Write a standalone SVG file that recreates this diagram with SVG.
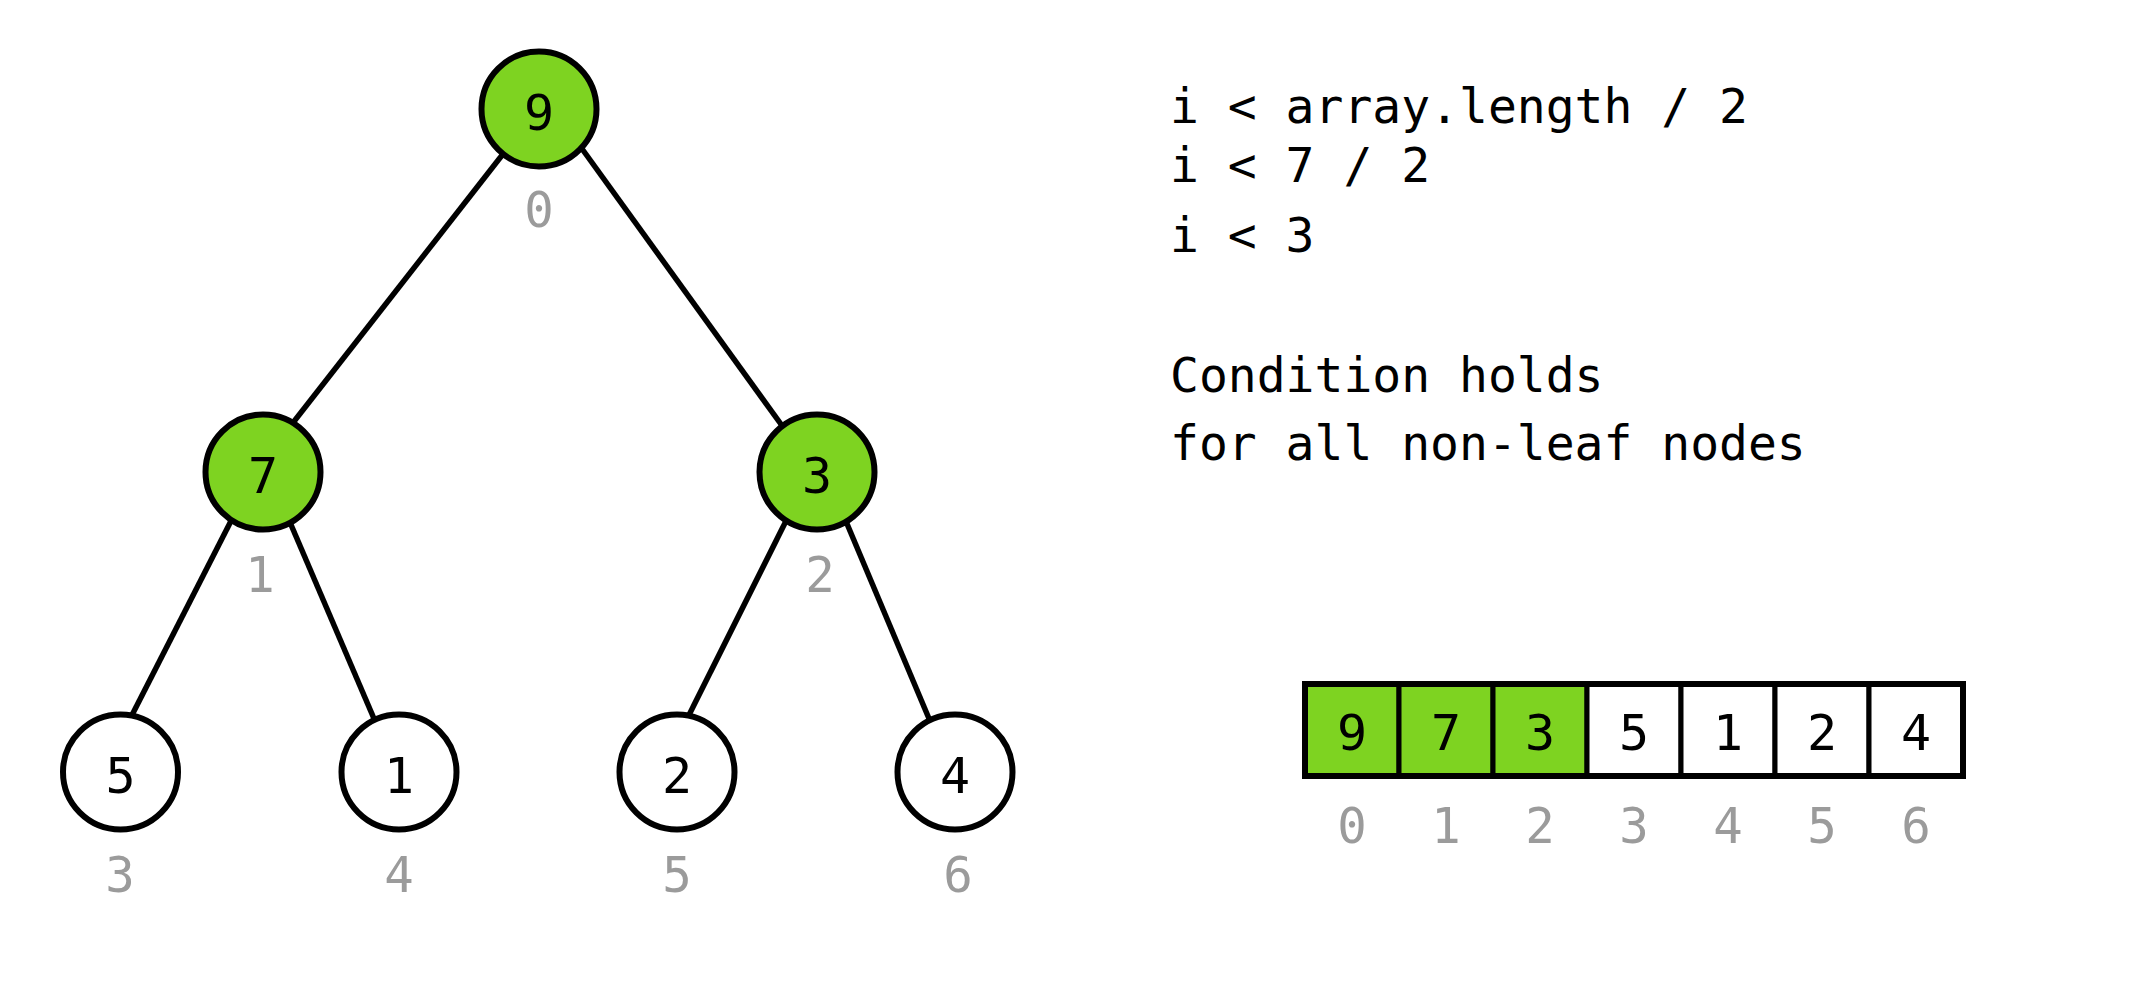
<svg xmlns="http://www.w3.org/2000/svg" width="2138" height="984" viewBox="0 0 2138 984">
<style>
.edge{stroke:#000;stroke-width:5.5;fill:none}
.node{stroke:#000;stroke-width:6}
.g{fill:#7ED321}
.w{fill:#fff}
.val{font-family:"DejaVu Sans Mono","Liberation Mono",monospace;font-size:50px;fill:#000;text-anchor:middle}
.idx{font-family:"DejaVu Sans Mono","Liberation Mono",monospace;font-size:49px;fill:#9B9B9B;text-anchor:middle}
.code{font-family:"DejaVu Sans Mono","Liberation Mono",monospace;font-size:48px;fill:#000}
.cell{stroke:#000;stroke-width:5}
</style>
<rect width="2138" height="984" fill="#fff"/>
<g id="connectors">
<line class="edge" x1="503" y1="154" x2="292" y2="424"/>
<line class="edge" x1="580" y1="146" x2="783" y2="427"/>
<line class="edge" x1="232" y1="519" x2="131" y2="717"/>
<line class="edge" x1="289" y1="520" x2="375" y2="721"/>
<line class="edge" x1="787" y1="519" x2="688" y2="717"/>
<line class="edge" x1="845" y1="519" x2="930" y2="721"/>
</g>
<g id="node-0"><circle class="node g" cx="539" cy="109" r="57.5"/><text class="val" x="539" y="130">9</text><text class="idx" x="539" y="227">0</text></g>
<g id="node-1"><circle class="node g" cx="263" cy="472" r="57.5"/><text class="val" x="263" y="493">7</text><text class="idx" x="260" y="592">1</text></g>
<g id="node-2"><circle class="node g" cx="817" cy="472" r="57.5"/><text class="val" x="817" y="493">3</text><text class="idx" x="820" y="592">2</text></g>
<g id="node-3"><circle class="node w" cx="120.5" cy="772" r="57.5"/><text class="val" x="120.5" y="793">5</text><text class="idx" x="120" y="892">3</text></g>
<g id="node-4"><circle class="node w" cx="399" cy="772" r="57.5"/><text class="val" x="399" y="793">1</text><text class="idx" x="399" y="892">4</text></g>
<g id="node-5"><circle class="node w" cx="677" cy="772" r="57.5"/><text class="val" x="677" y="793">2</text><text class="idx" x="677" y="892">5</text></g>
<g id="node-6"><circle class="node w" cx="955" cy="772" r="57.5"/><text class="val" x="955" y="793">4</text><text class="idx" x="958" y="892">6</text></g>
<g id="condition-text">
<text class="code" x="1170" y="123" xml:space="preserve">i &lt; array.length / 2</text>
<text class="code" x="1170" y="182" xml:space="preserve">i &lt; 7 / 2</text>
<text class="code" x="1170" y="252" xml:space="preserve">i &lt; 3</text>
<text class="code" x="1170" y="392" xml:space="preserve">Condition holds</text>
<text class="code" x="1170" y="460" xml:space="preserve">for all non-leaf nodes</text>
</g>
<g id="array">
<rect class="cell g" x="1305" y="684" width="94" height="92"/>
<rect class="cell g" x="1399" y="684" width="94" height="92"/>
<rect class="cell g" x="1493" y="684" width="94" height="92"/>
<rect class="cell w" x="1587" y="684" width="94" height="92"/>
<rect class="cell w" x="1681" y="684" width="94" height="92"/>
<rect class="cell w" x="1775" y="684" width="94" height="92"/>
<rect class="cell w" x="1869" y="684" width="94" height="92"/>
<rect x="1305" y="684" width="658" height="92" fill="none" stroke="#000" stroke-width="6"/>
<text class="val" x="1352" y="750">9</text>
<text class="val" x="1446" y="750">7</text>
<text class="val" x="1540" y="750">3</text>
<text class="val" x="1634" y="750">5</text>
<text class="val" x="1728" y="750">1</text>
<text class="val" x="1822" y="750">2</text>
<text class="val" x="1916" y="750">4</text>
<text class="idx" x="1352" y="843">0</text>
<text class="idx" x="1446" y="843">1</text>
<text class="idx" x="1540" y="843">2</text>
<text class="idx" x="1634" y="843">3</text>
<text class="idx" x="1728" y="843">4</text>
<text class="idx" x="1822" y="843">5</text>
<text class="idx" x="1916" y="843">6</text>
</g>
</svg>
